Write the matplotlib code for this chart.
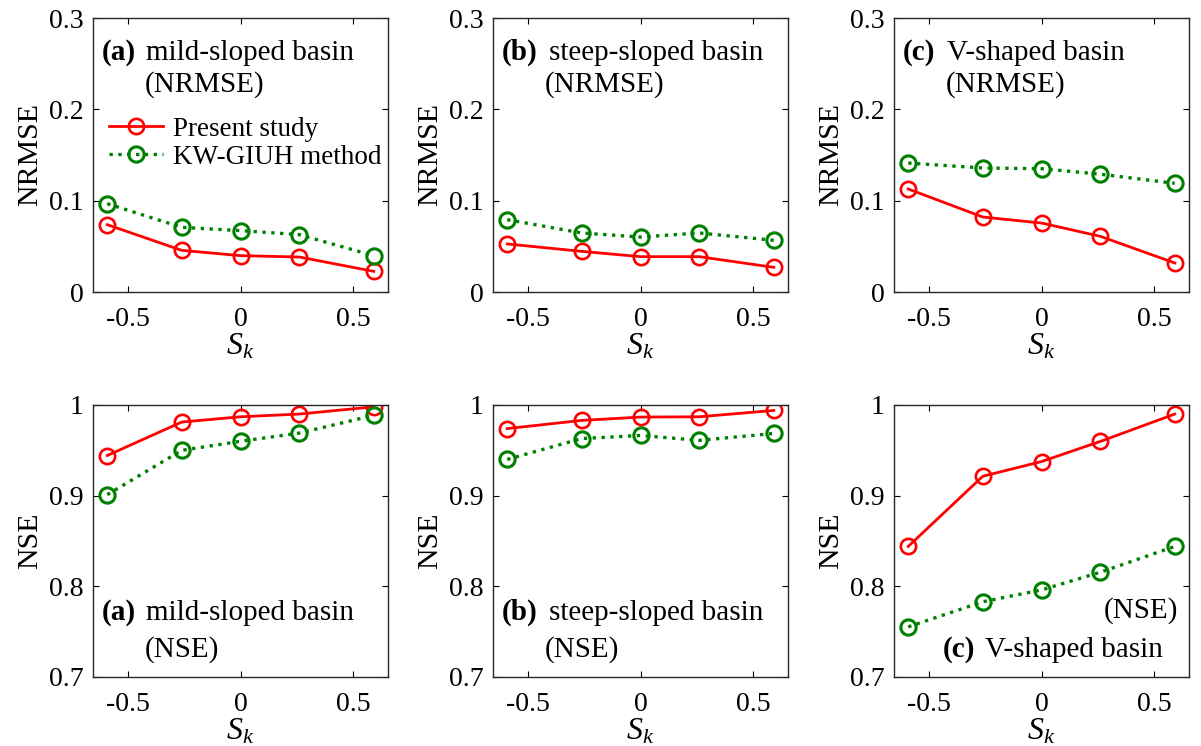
import matplotlib
matplotlib.use('Agg')
import matplotlib.pyplot as plt

plt.rcParams['font.family'] = ['Liberation Serif', 'DejaVu Serif']
plt.rcParams['mathtext.fontset'] = 'custom'
plt.rcParams['mathtext.it'] = 'Liberation Serif:italic'
plt.rcParams['mathtext.rm'] = 'Liberation Serif'
plt.rcParams['axes.unicode_minus'] = False

# skewness values
sk = [-0.59, -0.26, 0.0, 0.26, 0.59]

# NRMSE (top row)
nrmse_present = {
    'a': [0.0737, 0.0456, 0.0398, 0.0383, 0.0226],
    'b': [0.0526, 0.0445, 0.0387, 0.0387, 0.0270],
    'c': [0.1128, 0.0821, 0.0755, 0.0610, 0.0318],
}
nrmse_kw = {
    'a': [0.0967, 0.0708, 0.0672, 0.0628, 0.0398],
    'b': [0.0792, 0.0646, 0.0602, 0.0646, 0.0566],
    'c': [0.1412, 0.1358, 0.1350, 0.1290, 0.1190],
}

# NSE (bottom row)
nse_present = {
    'a': [0.9443, 0.9812, 0.9870, 0.9900, 0.9980],
    'b': [0.9740, 0.9830, 0.9867, 0.9870, 0.9940],
    'c': [0.8440, 0.9214, 0.9376, 0.9598, 0.9900],
}
nse_kw = {
    'a': [0.9011, 0.9500, 0.9600, 0.9690, 0.9886],
    'b': [0.9400, 0.9630, 0.9664, 0.9610, 0.9686],
    'c': [0.7553, 0.7830, 0.7960, 0.8155, 0.8440],
}

basins = {'a': 'mild-sloped basin', 'b': 'steep-sloped basin', 'c': 'V-shaped basin'}
panels = ['a', 'b', 'c']

RED = '#ff0000'
GREEN = '#008000'
SPINE = '#262626'

fig = plt.figure(figsize=(12.01, 7.46), dpi=100)

lefts = [93 / 1201, 493 / 1201, 894 / 1201]
width = 295 / 1201
top_row = (454 / 746, 274 / 746)
bot_row = (69 / 746, 272 / 746)


def style_axes(ax):
    for s in ax.spines.values():
        s.set_color(SPINE)
        s.set_linewidth(1.0)
    ax.tick_params(direction='in', length=4, width=0.8, top=True, right=True,
                   labelsize=20, colors='black')
    ax.tick_params(axis='y', pad=7)
    ax.tick_params(axis='x', pad=11)
    ax.set_xlim(-0.653, 0.653)
    ax.set_xticks([-0.5, 0, 0.5])
    ax.set_xticklabels(['-0.5', '0', '0.5'])
    ax.set_xlabel('$S_k$', fontsize=23, labelpad=0)


def draw(ax, yp, yk):
    ax.plot(sk, yp, '-', color=RED, lw=2.0, marker='o', ms=11,
            mfc='none', mec=RED, mew=1.9, label='Present study')
    ax.plot(sk, yk, ':', color=GREEN, lw=2.4, marker='o', ms=11,
            mfc='none', mec=GREEN, mew=2.2, label='KW-GIUH method')


# top row: NRMSE
for i, p in enumerate(panels):
    ax = fig.add_axes([lefts[i], top_row[0], width, top_row[1]])
    draw(ax, nrmse_present[p], nrmse_kw[p])
    style_axes(ax)
    ax.set_ylim(0, 0.3)
    ax.set_yticks([0, 0.1, 0.2, 0.3])
    ax.set_yticklabels(['0', '0.1', '0.2', '0.3'])
    ax.set_ylabel('NRMSE', fontsize=21.5, labelpad=4)
    ax.text(0.03, 0.847, '(' + p + ')', transform=ax.transAxes, fontsize=21,
            fontweight='bold', va='baseline')
    ax.text(0.18 if p != 'b' else 0.19, 0.847, basins[p], transform=ax.transAxes,
            fontsize=21, va='baseline')
    ax.text(0.176, 0.73, '(NRMSE)', transform=ax.transAxes, fontsize=21,
            va='baseline')
    if p == 'a':
        ax.legend(loc='upper left', bbox_to_anchor=(0.055, 0.64), frameon=False,
                  fontsize=19.5, handlelength=2.0, handletextpad=0.35,
                  labelspacing=0.12, borderpad=0, borderaxespad=0)

# bottom row: NSE
for i, p in enumerate(panels):
    ax = fig.add_axes([lefts[i], bot_row[0], width, bot_row[1]])
    draw(ax, nse_present[p], nse_kw[p])
    style_axes(ax)
    ax.set_ylim(0.7, 1.0)
    ax.set_yticks([0.7, 0.8, 0.9, 1.0])
    ax.set_yticklabels(['0.7', '0.8', '0.9', '1'])
    ax.set_ylabel('NSE', fontsize=21.5, labelpad=4)
    if p == 'c':
        ax.text(0.963, 0.217, '(NSE)', transform=ax.transAxes, fontsize=21,
                va='baseline', ha='right')
        ax.text(0.166, 0.074, '(c)', transform=ax.transAxes, fontsize=21,
                fontweight='bold', va='baseline')
        ax.text(0.308, 0.074, basins[p], transform=ax.transAxes, fontsize=21,
                va='baseline')
    else:
        ax.text(0.03, 0.21, '(' + p + ')', transform=ax.transAxes, fontsize=21,
                fontweight='bold', va='baseline')
        ax.text(0.18 if p != 'b' else 0.19, 0.21, basins[p], transform=ax.transAxes,
                fontsize=21, va='baseline')
        ax.text(0.176, 0.074, '(NSE)', transform=ax.transAxes, fontsize=21,
                va='baseline')

fig.savefig('out.png', dpi=100)
